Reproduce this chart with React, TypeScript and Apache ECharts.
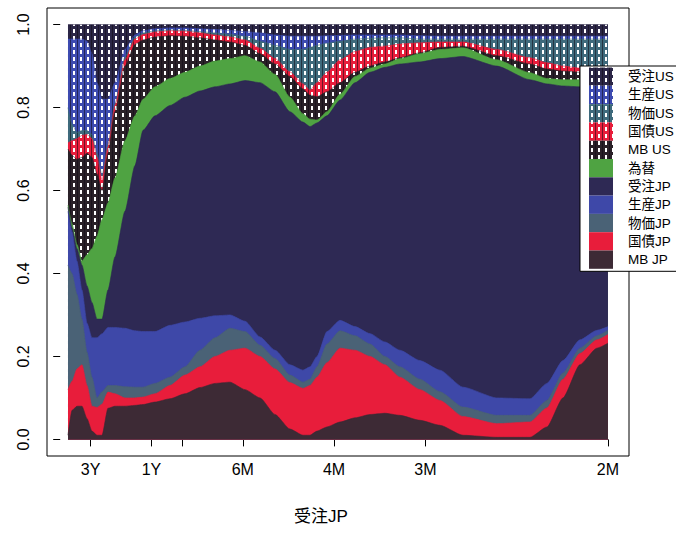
import React, { useEffect, useRef } from "react";
import * as echarts from "echarts";

// frequency (cycles per month)
const freq = [0.0071, 0.0108, 0.0153, 0.0199, 0.0245, 0.029, 0.0336, 0.0382, 0.0436, 0.05, 0.0591, 0.0682, 0.0756, 0.0865, 0.1002, 0.1139, 0.1276, 0.1413, 0.155, 0.1687, 0.1824, 0.1961, 0.2097, 0.2216, 0.228, 0.2344, 0.2435, 0.2554, 0.2691, 0.2828, 0.2964, 0.3101, 0.3284, 0.3466, 0.3676, 0.3986, 0.4288, 0.4443, 0.4589, 0.4744, 0.4899, 0.5];

const tickFreq = [1 / 36, 1 / 12, 1 / 9, 1 / 6, 1 / 4, 1 / 3, 1 / 2];
const tickLabels = ["3Y", "1Y", "", "6M", "4M", "3M", "2M"];
const yTicks = [0, 0.2, 0.4, 0.6, 0.8, 1.0];

const mbJP = [0.01, 0.07, 0.08, 0.08, 0.05, 0.02, 0.01, 0.01, 0.075, 0.08, 0.08, 0.082, 0.084, 0.09, 0.098, 0.11, 0.125, 0.135, 0.138, 0.12, 0.1, 0.06, 0.025, 0.01, 0.01, 0.02, 0.03, 0.042, 0.052, 0.06, 0.063, 0.058, 0.046, 0.034, 0.01, 0.005, 0.005, 0.03, 0.1, 0.18, 0.22, 0.232];
const bondJP = [0.11, 0.07, 0.09, 0.1, 0.08, 0.06, 0.067, 0.075, 0.039, 0.03, 0.02, 0.018, 0.018, 0.02, 0.032, 0.045, 0.05, 0.065, 0.077, 0.1, 0.1, 0.11, 0.112, 0.113, 0.12, 0.13, 0.155, 0.178, 0.163, 0.14, 0.117, 0.092, 0.074, 0.06, 0.045, 0.033, 0.037, 0.046, 0.045, 0.027, 0.02, 0.021];
const priceJP = [0.3, 0.26, 0.18, 0.11, 0.08, 0.07, 0.023, 0.03, 0.016, 0.02, 0.027, 0.026, 0.024, 0.025, 0.02, 0.02, 0.04, 0.045, 0.053, 0.04, 0.027, 0.025, 0.018, 0.015, 0.015, 0.025, 0.045, 0.042, 0.035, 0.03, 0.02, 0.025, 0.025, 0.021, 0.023, 0.02, 0.016, 0.018, 0.015, 0.013, 0.01, 0.01];
const prodJP = [0.13, 0.1, 0.08, 0.07, 0.07, 0.095, 0.145, 0.14, 0.14, 0.14, 0.141, 0.136, 0.134, 0.125, 0.125, 0.108, 0.077, 0.053, 0.032, 0.025, 0.02, 0.02, 0.025, 0.029, 0.03, 0.025, 0.03, 0.025, 0.022, 0.025, 0.035, 0.04, 0.045, 0.052, 0.048, 0.042, 0.04, 0.041, 0.03, 0.02, 0.013, 0.009];
const orderJP = [0.01, 0.01, 0.03, 0.06, 0.09, 0.085, 0.045, 0.035, 0.09, 0.17, 0.282, 0.398, 0.485, 0.52, 0.53, 0.542, 0.548, 0.552, 0.557, 0.58, 0.613, 0.623, 0.61, 0.598, 0.579, 0.563, 0.52, 0.531, 0.588, 0.63, 0.662, 0.69, 0.72, 0.751, 0.797, 0.8, 0.769, 0.722, 0.662, 0.61, 0.589, 0.583];
const fx = [0.005, 0.01, 0.01, 0.01, 0.075, 0.13, 0.2, 0.24, 0.21, 0.19, 0.17, 0.12, 0.075, 0.07, 0.065, 0.06, 0.06, 0.062, 0.061, 0.06, 0.05, 0.042, 0.035, 0.02, 0.018, 0.007, 0.01, 0.014, 0.015, 0.01, 0.008, 0.013, 0.02, 0.022, 0.021, 0.015, 0.017, 0.013, 0.015, 0.017, 0.014, 0.011];
const mbUS = [0.135, 0.165, 0.205, 0.25, 0.245, 0.22, 0.15, 0.07, 0.12, 0.16, 0.18, 0.172, 0.143, 0.12, 0.103, 0.087, 0.068, 0.051, 0.04, 0.025, 0.02, 0.025, 0.05, 0.06, 0.058, 0.056, 0.048, 0.028, 0.01, 0.005, 0.005, 0.002, 0.002, 0.005, 0.004, 0.01, 0.021, 0.023, 0.021, 0.018, 0.018, 0.018];
const bondUS = [0.015, 0.035, 0.05, 0.053, 0.045, 0.045, 0.04, 0.025, 0.015, 0.015, 0.015, 0.013, 0.013, 0.012, 0.012, 0.012, 0.012, 0.012, 0.012, 0.013, 0.013, 0.013, 0.011, 0.012, 0.012, 0.034, 0.047, 0.055, 0.05, 0.045, 0.038, 0.033, 0.024, 0.013, 0.01, 0.015, 0.015, 0.015, 0.012, 0.01, 0.009, 0.009];
const priceUS = [0.085, 0.04, 0.015, 0.012, 0.01, 0.01, 0.01, 0.01, 0.007, 0.005, 0.007, 0.005, 0.004, 0.003, 0.002, 0.002, 0.003, 0.005, 0.007, 0.009, 0.017, 0.032, 0.054, 0.083, 0.103, 0.09, 0.07, 0.045, 0.03, 0.022, 0.02, 0.015, 0.009, 0.007, 0.007, 0.025, 0.045, 0.057, 0.065, 0.07, 0.072, 0.072];
const prodUS = [0.165, 0.205, 0.225, 0.22, 0.215, 0.195, 0.17, 0.185, 0.108, 0.05, 0.018, 0.005, 0.005, 0.005, 0.005, 0.006, 0.007, 0.008, 0.009, 0.011, 0.02, 0.025, 0.032, 0.032, 0.027, 0.022, 0.018, 0.014, 0.01, 0.008, 0.007, 0.007, 0.008, 0.007, 0.007, 0.007, 0.007, 0.007, 0.007, 0.007, 0.007, 0.007];
const orderUS = [0.035, 0.035, 0.035, 0.035, 0.04, 0.07, 0.14, 0.18, 0.18, 0.14, 0.06, 0.025, 0.015, 0.01, 0.008, 0.008, 0.01, 0.012, 0.014, 0.017, 0.02, 0.025, 0.028, 0.028, 0.028, 0.028, 0.027, 0.026, 0.025, 0.025, 0.025, 0.025, 0.027, 0.028, 0.028, 0.028, 0.028, 0.028, 0.028, 0.028, 0.028, 0.028];

// stacking order: bottom to top
const seriesNames = ["MB JP", "国債JP", "物価JP", "生産JP", "受注JP", "為替", "MB US", "国債US", "物価US", "生産US", "受注US"];
const seriesValues = [mbJP, bondJP, priceJP, prodJP, orderJP, fx, mbUS, bondUS, priceUS, prodUS, orderUS];
const seriesColors = ["#3d2a35", "#e81d3b", "#4a6276", "#3e48a8", "#2e2954", "#4fa342", "#2a2128", "#e81d3b", "#3e6a7c", "#3d4bb0", "#2b2646"];
const seriesHatched = [false, false, false, false, false, false, true, true, true, true, true];

const FONT = "'Liberation Sans', Arial, 'Noto Sans CJK JP', sans-serif";

function makeFill(color: string, hatched: boolean): any {
  if (!hatched) return color;
  const c = document.createElement("canvas");
  c.width = 7;
  c.height = 7;
  const ctx = c.getContext("2d")!;
  ctx.fillStyle = color;
  ctx.fillRect(0, 0, 7, 7);
  ctx.fillStyle = "rgba(15,10,20,0.55)";
  ctx.fillRect(0, 0, 1, 7);
  ctx.fillStyle = "#ffffff";
  ctx.fillRect(3, 1, 2, 4);
  return { image: c, repeat: "repeat", imageWidth: 7, imageHeight: 7 };
}

export default function App() {
  const ref = useRef<HTMLDivElement>(null);
  useEffect(() => {
    document.body.style.margin = "0";
    const chart = echarts.init(ref.current!, null, { renderer: "svg" });
    const fills = seriesColors.map((c, i) => makeFill(c, seriesHatched[i]));

    // cumulative tops (painter's stacking: top layer drawn first, each filled down to 0)
    const cum: number[][] = [];
    seriesValues.forEach((vals, i) => {
      cum.push(vals.map((v, j) => (i === 0 ? 0 : cum[i - 1][j]) + v));
    });

    const series: any[] = [];
    for (let i = seriesNames.length - 1; i >= 0; i--) {
      series.push({
        type: "line",
        name: seriesNames[i],
        data: freq.map((f, j) => [f, cum[i][j]]),
        showSymbol: false,
        symbol: "none",
        smooth: 0.2,
        smoothMonotone: "x",
        silent: true,
        lineStyle: { width: 0.6, color: seriesColors[i] },
        itemStyle: { color: seriesColors[i] },
        areaStyle: { color: fills[i], opacity: 1, origin: 0 },
        emphasis: { disabled: true },
      });
    }

    // legend drawn as graphic (top row = last series)
    const legendTop = 67.5;
    const rowH = 18.3;
    const legendEls: any[] = [
      {
        type: "rect",
        shape: { x: 580, y: legendTop - 1.5, width: 130, height: rowH * seriesNames.length + 4 },
        style: { fill: "#ffffff", stroke: "#000000", lineWidth: 1 },
        z: 10,
      },
    ];
    const order = seriesNames.map((_, i) => seriesNames.length - 1 - i);
    order.forEach((si, row) => {
      legendEls.push({
        type: "rect",
        shape: { x: 589, y: legendTop + row * rowH, width: 24, height: rowH },
        style: { fill: fills[si], stroke: null },
        z: 11,
      });
      legendEls.push({
        type: "text",
        x: 628,
        y: legendTop + row * rowH + rowH / 2,
        style: {
          text: seriesNames[si],
          fontSize: 13.5,
          fontFamily: FONT,
          fill: "#000",
          verticalAlign: "middle",
        },
        z: 11,
      });
    });
    legendEls.push({
      type: "text",
      x: 321,
      y: 516,
      style: {
        text: "受注JP",
        fontSize: 17,
        fontFamily: FONT,
        fill: "#000",
        align: "center",
        verticalAlign: "middle",
      },
      z: 11,
    });

    chart.setOption({
      animation: false,
      grid: {
        left: 47,
        right: 47,
        top: 8,
        bottom: 88,
        show: true,
        borderColor: "#000",
        borderWidth: 1,
        backgroundColor: "transparent",
      },
      xAxis: {
        type: "value",
        min: -0.01205,
        max: 0.5192,
        axisLine: { show: false },
        splitLine: { show: false },
        axisTick: { show: true, customValues: tickFreq, length: 7, lineStyle: { color: "#000", width: 1 } },
        axisLabel: {
          customValues: tickFreq,
          formatter: (v: number) => {
            const k = tickFreq.findIndex((t) => Math.abs(t - v) < 1e-6);
            return k >= 0 ? tickLabels[k] : "";
          },
          fontSize: 16,
          fontFamily: FONT,
          color: "#000",
          margin: 5,
        },
      },
      yAxis: {
        type: "value",
        min: -0.04,
        max: 1.04,
        axisLine: { show: false },
        splitLine: { show: false },
        axisTick: { show: true, customValues: yTicks, length: 7, lineStyle: { color: "#000", width: 1 } },
        axisLabel: {
          customValues: yTicks,
          rotate: 90,
          formatter: (v: number) => v.toFixed(1),
          fontSize: 16,
          fontFamily: FONT,
          color: "#000",
          margin: 16,
        },
      },
      series,
      graphic: { elements: legendEls },
    } as any);
    return () => chart.dispose();
  }, []);
  return <div ref={ref} style={{ width: 676, height: 544 }} />;
}
